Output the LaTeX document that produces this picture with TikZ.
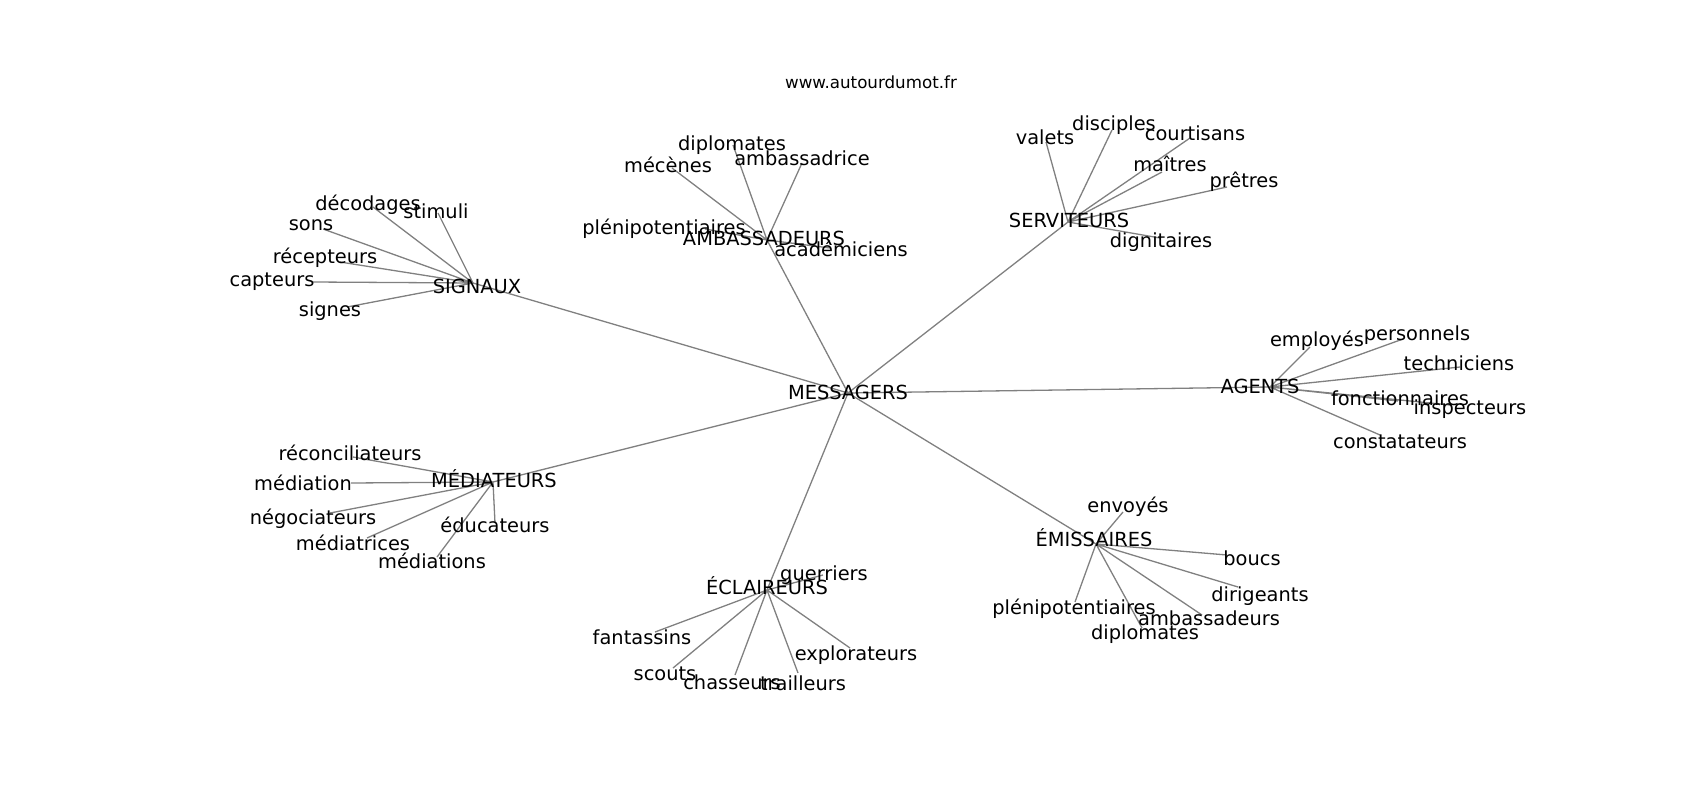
\documentclass[tikz,border=0pt]{standalone}
\usepackage{fontspec}
\setmainfont{DejaVu Sans}
\usetikzlibrary{positioning}

\tikzset{
  word/.style={inner sep=0pt, anchor=center, text height=14pt, text depth=0pt,
    font=\fontsize{19.4}{23}\selectfont},
  web/.style={draw=gray, line width=1.3pt}
}

\begin{document}
\begin{tikzpicture}[x=1pt,y=-1pt]
  \useasboundingbox (0,0) rectangle (1700,800);
  \node[font=\fontsize{16.7}{20}\selectfont, inner sep=0pt] (site) at (871,82) {www.autourdumot.fr};

  % hubs
  \coordinate (mes) at (848,393);
  \coordinate (sig) at (473,283);
  \coordinate (amb) at (767,240);
  \coordinate (ser) at (1068,222);
  \coordinate (age) at (1270,387);
  \coordinate (med) at (493,482);
  \coordinate (ecl) at (767,590);
  \coordinate (emi) at (1096,544);

  % signaux
  \coordinate (sig1) at (373,207);
  \coordinate (sig2) at (438,213);
  \coordinate (sig3) at (323,229);
  \coordinate (sig4) at (340,262);
  \coordinate (sig5) at (313,282);
  \coordinate (sig6) at (347,307);
  % ambassadeurs
  \coordinate (amb1) at (733,145);
  \coordinate (amb2) at (802,163);
  \coordinate (amb3) at (672,168);
  \coordinate (amb4) at (705,229);
  \coordinate (amb5) at (830,248);
  % serviteurs
  \coordinate (ser1) at (1046,142);
  \coordinate (ser2) at (1112,130);
  \coordinate (ser3) at (1190,138);
  \coordinate (ser4) at (1162,172);
  \coordinate (ser5) at (1227,187);
  \coordinate (ser6) at (1160,238);
  % agents
  \coordinate (age1) at (1310,347);
  \coordinate (age2) at (1403,339);
  \coordinate (age3) at (1460,367);
  \coordinate (age4) at (1398,401);
  \coordinate (age5) at (1450,405);
  \coordinate (age6) at (1380,435);
  % mediateurs
  \coordinate (med1) at (353,457);
  \coordinate (med2) at (351,483);
  \coordinate (med3) at (330,513);
  \coordinate (med4) at (367,538);
  \coordinate (med5) at (437,557);
  \coordinate (med6) at (495,523);
  % eclaireurs
  \coordinate (ecl1) at (823,575);
  \coordinate (ecl2) at (655,632);
  \coordinate (ecl3) at (673,668);
  \coordinate (ecl4) at (735,675);
  \coordinate (ecl5) at (798,673);
  \coordinate (ecl6) at (850,648);
  % emissaires
  \coordinate (emi1) at (1123,512);
  \coordinate (emi2) at (1227,555);
  \coordinate (emi3) at (1238,587);
  \coordinate (emi4) at (1075,602);
  \coordinate (emi5) at (1202,615);
  \coordinate (emi6) at (1142,628);

  % edges
  \draw[web] (mes) -- (sig) (mes) -- (amb) (mes) -- (ser) (mes) -- (age)
    (mes) -- (med) (mes) -- (ecl) (mes) -- (emi);
  \draw[web] (sig) -- (sig1) (sig) -- (sig2) (sig) -- (sig3) (sig) -- (sig4)
    (sig) -- (sig5) (sig) -- (sig6);
  \draw[web] (amb) -- (amb1) (amb) -- (amb2) (amb) -- (amb3) (amb) -- (amb4)
    (amb) -- (amb5);
  \draw[web] (ser) -- (ser1) (ser) -- (ser2) (ser) -- (ser3) (ser) -- (ser4)
    (ser) -- (ser5) (ser) -- (ser6);
  \draw[web] (age) -- (age1) (age) -- (age2) (age) -- (age3) (age) -- (age4)
    (age) -- (age5) (age) -- (age6);
  \draw[web] (med) -- (med1) (med) -- (med2) (med) -- (med3) (med) -- (med4)
    (med) -- (med5) (med) -- (med6);
  \draw[web] (ecl) -- (ecl1) (ecl) -- (ecl2) (ecl) -- (ecl3) (ecl) -- (ecl4)
    (ecl) -- (ecl5) (ecl) -- (ecl6);
  \draw[web] (emi) -- (emi1) (emi) -- (emi2) (emi) -- (emi3) (emi) -- (emi4)
    (emi) -- (emi5) (emi) -- (emi6);

  % labels
  \node[word] (mes-l) at (848,392) {MESSAGERS};
  \node[word] (sig-l) at (477,286) {SIGNAUX};
  \node[word] (amb-l) at (764,238) {AMBASSADEURS};
  \node[word] (ser-l) at (1069,220) {SERVITEURS};
  \node[word] (age-l) at (1260,386) {AGENTS};
  \node[word] (med-l) at (494,480) {MÉDIATEURS};
  \node[word] (ecl-l) at (767,587) {ÉCLAIREURS};
  \node[word] (emi-l) at (1094,539) {ÉMISSAIRES};

  \node[word] (sig1-l) at (368,203) {décodages};
  \node[word] (sig2-l) at (436,211) {stimuli};
  \node[word] (sig3-l) at (311,223) {sons};
  \node[word] (sig4-l) at (325,256) {récepteurs};
  \node[word] (sig5-l) at (272,279) {capteurs};
  \node[word] (sig6-l) at (330,309) {signes};

  \node[word] (amb1-l) at (732,143) {diplomates};
  \node[word] (amb2-l) at (802,158) {ambassadrice};
  \node[word] (amb3-l) at (668,165) {mécènes};
  \node[word] (amb4-l) at (664,227) {plénipotentiaires};
  \node[word] (amb5-l) at (841,249) {académiciens};

  \node[word] (ser1-l) at (1045,137) {valets};
  \node[word] (ser2-l) at (1114,123) {disciples};
  \node[word] (ser3-l) at (1195,133) {courtisans};
  \node[word] (ser4-l) at (1170,164) {maîtres};
  \node[word] (ser5-l) at (1244,180) {prêtres};
  \node[word] (ser6-l) at (1161,240) {dignitaires};

  \node[word] (age1-l) at (1317,339) {employés};
  \node[word] (age2-l) at (1417,333) {personnels};
  \node[word] (age3-l) at (1459,363) {techniciens};
  \node[word] (age4-l) at (1400,398) {fonctionnaires};
  \node[word] (age5-l) at (1470,407) {inspecteurs};
  \node[word] (age6-l) at (1400,441) {constatateurs};

  \node[word] (med1-l) at (350,453) {réconciliateurs};
  \node[word] (med2-l) at (303,483) {médiation};
  \node[word] (med3-l) at (313,517) {négociateurs};
  \node[word] (med4-l) at (353,543) {médiatrices};
  \node[word] (med5-l) at (432,561) {médiations};
  \node[word] (med6-l) at (495,525) {éducateurs};

  \node[word] (ecl1-l) at (824,573) {guerriers};
  \node[word] (ecl2-l) at (642,637) {fantassins};
  \node[word] (ecl3-l) at (665,673) {scouts};
  \node[word] (ecl4-l) at (732,682) {chasseurs};
  \node[word] (ecl5-l) at (803,683) {trailleurs};
  \node[word] (ecl6-l) at (856,653) {explorateurs};

  \node[word] (emi1-l) at (1128,505) {envoyés};
  \node[word] (emi2-l) at (1252,558) {boucs};
  \node[word] (emi3-l) at (1260,594) {dirigeants};
  \node[word] (emi4-l) at (1074,607) {plénipotentiaires};
  \node[word] (emi5-l) at (1209,618) {ambassadeurs};
  \node[word] (emi6-l) at (1145,632) {diplomates};
\end{tikzpicture}
\end{document}
